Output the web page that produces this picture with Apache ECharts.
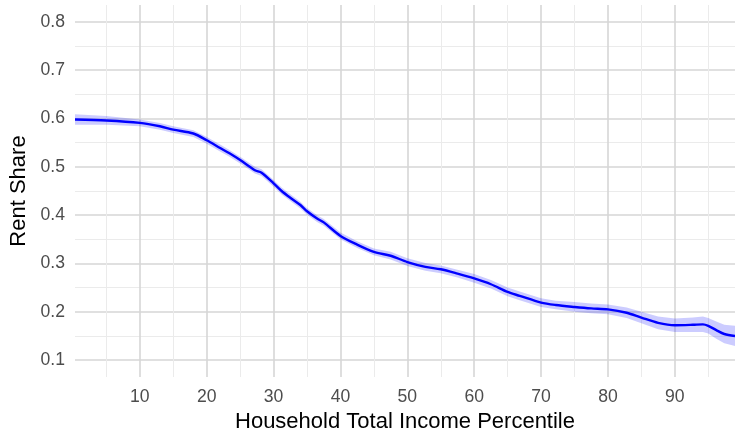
<!DOCTYPE html>
<html>
<head>
<meta charset="utf-8">
<script src="https://cdn.jsdelivr.net/npm/echarts@6/dist/echarts.min.js"></script>
<style>
html, body { margin: 0; padding: 0; background: #fff; }
#chart { width: 735px; height: 437px; }
</style>
</head>
<body>
<div id="chart"></div>
<script>
// percentile (x) with smoothed rent share and its confidence band
const percentile = [0.3, 5, 10, 13, 15, 18, 20, 22, 23.4, 25, 27.2, 28.2, 30, 31.2, 32.7, 34, 35, 36.5, 37.5, 40,
  42.5, 45, 47.5, 50, 52.7, 55, 57.5, 60, 62.5, 65, 66.8, 70, 72.2, 75, 77.5, 80, 82.8, 85, 87.5, 90,
  92.7, 94.2, 95, 96.2, 97.4, 99];
const rentShare = [0.598, 0.596, 0.591, 0.584, 0.577, 0.569, 0.555, 0.539, 0.528, 0.514, 0.493, 0.488, 0.466, 0.450, 0.434, 0.421, 0.408, 0.393, 0.385, 0.357,
  0.339, 0.324, 0.316, 0.303, 0.293, 0.288, 0.279, 0.269, 0.257, 0.241, 0.233, 0.219, 0.214, 0.210, 0.207, 0.205, 0.198, 0.188, 0.177, 0.172,
  0.173, 0.174, 0.171, 0.162, 0.154, 0.150];
const ciLower = [0.587, 0.587, 0.584, 0.577, 0.570, 0.562, 0.548, 0.532, 0.521, 0.507, 0.486, 0.481, 0.459, 0.443, 0.427, 0.414, 0.401, 0.386, 0.378, 0.350,
  0.332, 0.317, 0.308, 0.295, 0.285, 0.280, 0.271, 0.260, 0.248, 0.232, 0.224, 0.210, 0.205, 0.200, 0.197, 0.195, 0.187, 0.176, 0.164, 0.158,
  0.158, 0.158, 0.155, 0.144, 0.135, 0.129];
const ciUpper = [0.609, 0.605, 0.598, 0.591, 0.584, 0.576, 0.562, 0.546, 0.535, 0.521, 0.500, 0.495, 0.473, 0.457, 0.441, 0.428, 0.415, 0.400, 0.392, 0.364,
  0.346, 0.331, 0.324, 0.311, 0.301, 0.296, 0.287, 0.278, 0.266, 0.250, 0.242, 0.228, 0.223, 0.220, 0.217, 0.215, 0.209, 0.200, 0.190, 0.186,
  0.188, 0.190, 0.187, 0.180, 0.173, 0.171];

const xMajor = [10, 20, 30, 40, 50, 60, 70, 80, 90];
const xMinor = [5, 15, 25, 35, 45, 55, 65, 75, 85, 95];
const yMajor = [0.1, 0.2, 0.3, 0.4, 0.5, 0.6, 0.7, 0.8];
const yMinor = [0.15, 0.25, 0.35, 0.45, 0.55, 0.65, 0.75];

const font = 'Liberation Sans, Arial, sans-serif';
const majorLine = { show: true, lineStyle: { color: '#d6d6d6', width: 1.6 } };
const minorLine = { show: true, lineStyle: { color: '#ebebeb', width: 1 } };

const chart = echarts.init(document.getElementById('chart'));

// confidence ribbon: one polygon through upper then lower bounds
function renderRibbon(params, api) {
  if (params.dataIndex !== 0) return;
  const pts = [];
  for (let i = 0; i < percentile.length; i++) pts.push(api.coord([percentile[i], ciUpper[i]]));
  for (let i = percentile.length - 1; i >= 0; i--) pts.push(api.coord([percentile[i], ciLower[i]]));
  return {
    type: 'polygon',
    shape: { points: pts },
    style: { fill: 'rgba(0,0,255,0.2)', stroke: null }
  };
}

const option = {
  backgroundColor: '#fff',
  animation: false,
  grid: { left: 75, right: 0, top: 5, bottom: 60, outerBoundsMode: 'none', containLabel: false },
  xAxis: [
    {
      type: 'value',
      min: 0.3,
      max: 99,
      name: 'Household Total Income Percentile',
      nameLocation: 'middle',
      nameGap: 31,
      nameTextStyle: { fontFamily: font, fontSize: 22, color: '#000' },
      axisLine: { show: false },
      axisTick: { show: false, customValues: xMajor },
      axisLabel: { customValues: xMajor, margin: 11, fontFamily: font, fontSize: 17.6, color: '#4d4d4d' },
      splitLine: majorLine
    },
    {
      type: 'value',
      min: 0.3,
      max: 99,
      axisLine: { show: false },
      axisTick: { show: false, customValues: xMinor },
      axisLabel: { show: false },
      splitLine: minorLine
    }
  ],
  yAxis: [
    {
      type: 'value',
      min: 0.065,
      max: 0.835,
      name: 'Rent Share',
      nameLocation: 'middle',
      nameGap: 41,
      nameTextStyle: { fontFamily: font, fontSize: 22, color: '#000' },
      axisLine: { show: false },
      axisTick: { show: false, customValues: yMajor },
      axisLabel: { customValues: yMajor, margin: 10, fontFamily: font, fontSize: 17.6, color: '#4d4d4d', formatter: v => v.toFixed(1) },
      splitLine: majorLine
    },
    {
      type: 'value',
      min: 0.065,
      max: 0.835,
      axisLine: { show: false },
      axisTick: { show: false, customValues: yMinor },
      axisLabel: { show: false },
      splitLine: minorLine
    }
  ],
  series: [
    {
      name: 'band',
      type: 'custom',
      renderItem: renderRibbon,
      data: percentile.map((p, i) => [p, rentShare[i]]),
      clip: true,
      z: 2
    },
    {
      name: 'Rent Share',
      type: 'line',
      smooth: 0.3,
      symbol: 'none',
      lineStyle: { color: '#0000ff', width: 2.4 },
      data: percentile.map((p, i) => [p, rentShare[i]]),
      z: 3
    }
  ]
};

chart.setOption(option);
</script>
</body>
</html>
